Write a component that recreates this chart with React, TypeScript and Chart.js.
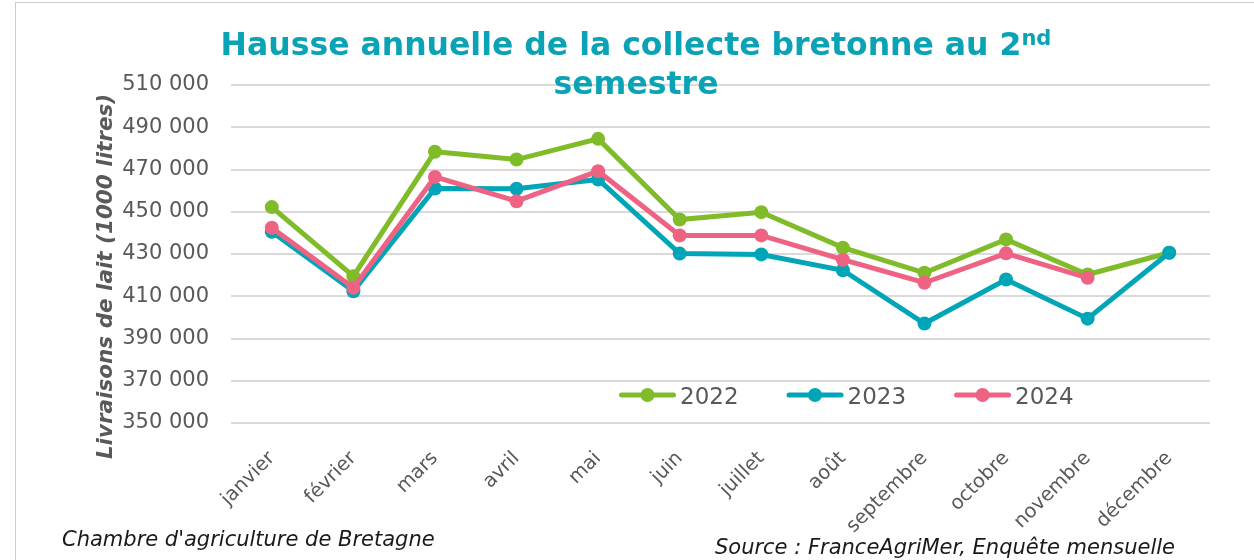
import React, { useEffect, useRef } from 'react';
import { Chart, registerables } from 'chart.js';

Chart.register(...registerables);

const months = ['janvier', 'février', 'mars', 'avril', 'mai', 'juin', 'juillet', 'août', 'septembre', 'octobre', 'novembre', 'décembre'];
const values2022 = [452200, 419500, 478400, 474700, 484500, 446300, 449800, 433000, 421100, 436900, 420300, 430600];
const values2023 = [440500, 412400, 461000, 460900, 465300, 430200, 429800, 422300, 397100, 417900, 399400, 430600];
const values2024 = [442400, 414000, 466500, 455000, 469200, 438800, 438800, 427300, 416400, 430300, 418700, null];
const seriesNames = ['2022', '2023', '2024'];
const seriesColors = ['#80BC2A', '#00A5B8', '#EE6384'];
const yMin = 350000;
const yMax = 510000;
const yStep = 20000;

const titleLine1 = 'Hausse annuelle de la collecte bretonne au 2';
const titleSup = 'nd';
const titleLine2 = 'semestre';
const yTitle = 'Livraisons de lait (1000 litres)';
const footLeft = "Chambre d'agriculture de Bretagne";
const footRight = 'Source : FranceAgriMer, Enquête mensuelle';

const FONT = '"DejaVu Sans", Verdana, sans-serif';

const fmt = (v: number) => String(v).replace(/\B(?=(\d{3})+(?!\d))/g, ' ');

const overlayPlugin = {
  id: 'overlay',
  afterDatasetsDraw(chart: any) {
    const ctx = chart.ctx as CanvasRenderingContext2D;
    const area = chart.chartArea;
    ctx.save();
    // Legend inside the plot area
    let x = area.left + 388;
    const y = area.bottom - 28;
    ctx.font = `23px ${FONT}`;
    chart.data.datasets.forEach((ds: any) => {
      ctx.strokeStyle = ds.borderColor;
      ctx.lineWidth = 5;
      ctx.lineCap = 'round';
      ctx.beginPath();
      ctx.moveTo(x + 2.5, y);
      ctx.lineTo(x + 54.5, y);
      ctx.stroke();
      ctx.fillStyle = ds.borderColor;
      ctx.beginPath();
      ctx.arc(x + 28.5, y, 7, 0, Math.PI * 2);
      ctx.fill();
      ctx.fillStyle = '#595959';
      ctx.textBaseline = 'alphabetic';
      ctx.textAlign = 'left';
      ctx.fillText(ds.label, x + 61, y + 8.5);
      x = x + 61 + ctx.measureText(ds.label).width + 48;
    });
    // Y axis title
    ctx.translate(112, 276.5);
    ctx.rotate(-Math.PI / 2);
    ctx.font = `italic bold 21.5px ${FONT}`;
    ctx.fillStyle = '#595959';
    ctx.textAlign = 'center';
    ctx.textBaseline = 'alphabetic';
    ctx.fillText(yTitle, 0, 0);
    ctx.restore();
  },
};

export default function App() {
  const canvasRef = useRef<HTMLCanvasElement | null>(null);

  useEffect(() => {
    const canvas = canvasRef.current;
    if (!canvas) return;
    const series = [values2022, values2023, values2024];
    const chart = new Chart(canvas, {
      type: 'line',
      data: {
        labels: months,
        datasets: series.map((vals, i) => ({
          label: seriesNames[i],
          data: vals,
          borderColor: seriesColors[i],
          backgroundColor: seriesColors[i],
          pointBackgroundColor: seriesColors[i],
          pointBorderColor: seriesColors[i],
          borderWidth: 5,
          pointRadius: 7,
          pointHoverRadius: 7,
          pointBorderWidth: 0,
          tension: 0,
          fill: false,
          order: 2 - i,
        })),
      },
      options: {
        responsive: false,
        animation: false,
        devicePixelRatio: 1,
        layout: { padding: { top: 85, right: 44, left: 0, bottom: 0 } },
        plugins: {
          legend: { display: false },
          title: { display: false },
          tooltip: { enabled: false },
        },
        scales: {
          x: {
            type: 'category',
            offset: true,
            grid: { display: false, drawTicks: false },
            border: { display: false },
            ticks: {
              minRotation: 45,
              maxRotation: 45,
              autoSkip: false,
              padding: 24,
              color: '#595959',
              font: { family: FONT, size: 19.5 },
            },
            afterFit: (scale: any) => {
              scale.height = 137;
            },
          },
          y: {
            min: yMin,
            max: yMax,
            grid: { color: '#dadada', lineWidth: 2, drawTicks: false },
            border: { display: false },
            ticks: {
              stepSize: yStep,
              padding: 22,
              color: '#595959',
              font: { family: FONT, size: 21 },
              callback: (v: any) => fmt(Number(v)),
            },
            afterFit: (scale: any) => {
              scale.width = 231;
            },
          },
        },
      },
      plugins: [overlayPlugin],
    });
    return () => chart.destroy();
  }, []);

  return (
    <div style={{ position: 'fixed', left: 0, top: 0, width: 1254, height: 560, background: '#fff', overflow: 'hidden' }}>
      <div style={{ position: 'absolute', left: 15, top: 2, width: 1300, height: 600, borderLeft: '1.5px solid #cccccc', borderTop: '1.5px solid #cccccc', boxSizing: 'border-box' }} />
      <canvas ref={canvasRef} width={1254} height={560} style={{ position: 'absolute', left: 0, top: 0, width: 1254, height: 560 }} />
      <div style={{ position: 'absolute', left: 136, width: 1000, top: 25, textAlign: 'center', fontFamily: FONT, fontWeight: 'bold', fontSize: 31.5, lineHeight: '39px', color: '#0AA3B5', whiteSpace: 'nowrap' }}>
        <div>
          {titleLine1}
          <span style={{ fontSize: 21, verticalAlign: 10, lineHeight: 0 }}>{titleSup}</span>
        </div>
        <div>{titleLine2}</div>
      </div>
      <div style={{ position: 'absolute', left: 62, top: 527, fontFamily: FONT, fontStyle: 'italic', fontSize: 21, lineHeight: '25px', color: '#1a1a1a', whiteSpace: 'nowrap' }}>
        {footLeft}
      </div>
      <div style={{ position: 'absolute', right: 1254 - 1175, top: 535, fontFamily: FONT, fontStyle: 'italic', fontSize: 21, lineHeight: '25px', color: '#1a1a1a', whiteSpace: 'nowrap' }}>
        {footRight}
      </div>
    </div>
  );
}
